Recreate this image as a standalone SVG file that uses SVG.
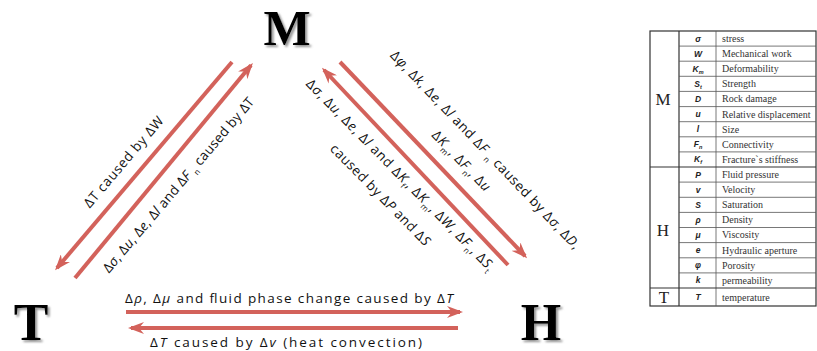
<svg xmlns="http://www.w3.org/2000/svg" width="817" height="351" viewBox="0 0 817 351">
<style>
.lbl{font-family:"Open Sans","Liberation Sans",sans-serif;font-size:13.5px;fill:#111;}
.big{font-family:"Liberation Serif","Times New Roman",serif;font-weight:bold;fill:#000;}
.i{font-style:italic;}
.sub{font-size:8px;}
.arr{stroke:#d3625b;stroke-width:4;fill:none;marker-end:url(#ah);}
.tl{stroke:#555;stroke-width:0.8;fill:none;}
.tk{stroke:#333;stroke-width:1.2;fill:none;}
.sec{font-family:"Liberation Serif",serif;font-size:17px;fill:#222;text-anchor:middle;}
.sym{font-family:"Liberation Sans",sans-serif;font-size:8.5px;font-weight:bold;font-style:italic;fill:#222;text-anchor:middle;}
.dsc{font-family:"Liberation Serif",serif;font-size:10px;fill:#333;}
</style>
<defs>
<marker id="ah" viewBox="0 0 16 12" refX="13" refY="6" markerWidth="16" markerHeight="12" markerUnits="userSpaceOnUse" orient="auto">
<path d="M0,0 L16,6 L0,12 L5,6 Z" fill="#d3625b"/>
</marker>
<filter id="sh" x="-30%" y="-30%" width="170%" height="170%">
<feDropShadow dx="2" dy="2" stdDeviation="1.2" flood-color="#777" flood-opacity="0.8"/>
</filter>
</defs>
<rect width="817" height="351" fill="#fff"/>

<g id="node-M"><text class="big" x="287" y="44.6" font-size="50" text-anchor="middle" filter="url(#sh)">M</text></g>
<g id="node-T"><text class="big" x="31" y="339.6" font-size="52" text-anchor="middle" filter="url(#sh)">T</text></g>
<g id="node-H"><text class="big" x="541" y="339.6" font-size="52" text-anchor="middle" filter="url(#sh)">H</text></g>

<g id="connectors">
<line class="arr" x1="232" y1="62" x2="57" y2="268"/>
<line class="arr" x1="75" y1="278" x2="251" y2="65.3"/>
<line class="arr" x1="340" y1="62" x2="525" y2="256"/>
<line class="arr" x1="508" y1="265" x2="324" y2="70"/>
<line class="arr" x1="126" y1="312" x2="460" y2="312"/>
<line class="arr" x1="458" y1="328" x2="131" y2="328"/>
</g>

<g id="labels">
<text class="lbl" text-anchor="middle" transform="translate(127,165) rotate(-49.6)" textLength="115">ΔT caused by ΔW</text>
<text class="lbl" text-anchor="middle" transform="translate(182,188) rotate(-49.6)" textLength="225">Δ<tspan class="i">σ</tspan>, Δ<tspan class="i">u</tspan>, Δ<tspan class="i">e</tspan>, Δ<tspan class="i">l</tspan> and Δ<tspan class="i">F</tspan> <tspan class="sub" baseline-shift="-4">n</tspan> caused by ΔT</text>

<text class="lbl" text-anchor="middle" transform="translate(482,153) rotate(46.4)" textLength="268">Δ<tspan class="i">φ</tspan>, Δ<tspan class="i">k</tspan>, Δ<tspan class="i">e</tspan>, Δ<tspan class="i">l</tspan> and Δ<tspan class="i">F</tspan> <tspan class="sub" baseline-shift="-4">n</tspan> caused by Δ<tspan class="i">σ</tspan>, Δ<tspan class="i">D</tspan>,</text>
<text class="lbl" text-anchor="middle" transform="translate(458,164) rotate(46.4)" textLength="78">Δ<tspan class="i">K</tspan><tspan class="sub" baseline-shift="-4">m</tspan>, Δ<tspan class="i">F</tspan><tspan class="sub" baseline-shift="-4">n</tspan>, Δ<tspan class="i">u</tspan></text>
<text class="lbl" text-anchor="middle" transform="translate(397,178) rotate(45.5)" textLength="262">Δ<tspan class="i">σ</tspan>, Δ<tspan class="i">u</tspan>, Δ<tspan class="i">e</tspan>, Δ<tspan class="i">l</tspan> and Δ<tspan class="i">K</tspan><tspan class="sub" baseline-shift="-4">f</tspan>, Δ<tspan class="i">K</tspan><tspan class="sub" baseline-shift="-4">m</tspan>, Δ<tspan class="i">W</tspan>, Δ<tspan class="i">F</tspan><tspan class="sub" baseline-shift="-4">n</tspan>, Δ<tspan class="i">S</tspan><tspan class="sub" baseline-shift="-4">t</tspan></text>
<text class="lbl" text-anchor="middle" transform="translate(377,198) rotate(45.5)" textLength="136">caused by Δ<tspan class="i">P</tspan> and Δ<tspan class="i">S</tspan></text>

<text class="lbl" text-anchor="middle" x="289" y="303" textLength="328">Δ<tspan class="i">ρ</tspan>, Δ<tspan class="i">μ</tspan> and fluid phase change caused by Δ<tspan class="i">T</tspan></text>
<text class="lbl" text-anchor="middle" x="286" y="347" textLength="272">Δ<tspan class="i">T</tspan> caused by Δ<tspan class="i">v</tspan> (heat convection)</text>
</g>

<g id="table">
<rect class="tk" x="650" y="31" width="166" height="275"/>
<line class="tk" x1="679" y1="31" x2="679" y2="306"/>
<line class="tl" x1="716" y1="31" x2="716" y2="306"/>
<line class="tk" x1="650" y1="167" x2="816" y2="167"/>
<line class="tk" x1="650" y1="288" x2="816" y2="288"/>
<g class="tl">
<line x1="679" y1="46.1" x2="816" y2="46.1"/>
<line x1="679" y1="61.2" x2="816" y2="61.2"/>
<line x1="679" y1="76.3" x2="816" y2="76.3"/>
<line x1="679" y1="91.4" x2="816" y2="91.4"/>
<line x1="679" y1="106.6" x2="816" y2="106.6"/>
<line x1="679" y1="121.7" x2="816" y2="121.7"/>
<line x1="679" y1="136.8" x2="816" y2="136.8"/>
<line x1="679" y1="151.9" x2="816" y2="151.9"/>
<line x1="679" y1="182.1" x2="816" y2="182.1"/>
<line x1="679" y1="197.3" x2="816" y2="197.3"/>
<line x1="679" y1="212.4" x2="816" y2="212.4"/>
<line x1="679" y1="227.5" x2="816" y2="227.5"/>
<line x1="679" y1="242.6" x2="816" y2="242.6"/>
<line x1="679" y1="257.8" x2="816" y2="257.8"/>
<line x1="679" y1="272.9" x2="816" y2="272.9"/>
</g>
<text class="sec" x="663" y="105">M</text>
<text class="sec" x="663" y="236">H</text>
<text class="sec" x="664" y="303">T</text>

<g class="sym">
<text x="698" y="41.5">σ</text>
<text x="698" y="56.6">W</text>
<text x="698" y="71.7">K<tspan font-size="5.5" baseline-shift="-2">m</tspan></text>
<text x="698" y="86.8">S<tspan font-size="5.5" baseline-shift="-2">t</tspan></text>
<text x="698" y="101.9">D</text>
<text x="698" y="117">u</text>
<text x="698" y="132.1">l</text>
<text x="698" y="147.2">F<tspan font-size="5.5" baseline-shift="-2">n</tspan></text>
<text x="698" y="162.3">K<tspan font-size="5.5" baseline-shift="-2">f</tspan></text>
<text x="698" y="177.5">P</text>
<text x="698" y="192.6">v</text>
<text x="698" y="207.7">S</text>
<text x="698" y="222.8">ρ</text>
<text x="698" y="237.9">μ</text>
<text x="698" y="253">e</text>
<text x="698" y="268.2">φ</text>
<text x="698" y="283.3">k</text>
<text x="698" y="300">T</text>
</g>
<g class="dsc">
<text x="722" y="42">stress</text>
<text x="722" y="57.1">Mechanical work</text>
<text x="722" y="72.2">Deformability</text>
<text x="722" y="87.3">Strength</text>
<text x="722" y="102.4">Rock damage</text>
<text x="722" y="117.5">Relative displacement</text>
<text x="722" y="132.6">Size</text>
<text x="722" y="147.7">Connectivity</text>
<text x="722" y="162.8">Fracture`s stiffness</text>
<text x="722" y="178">Fluid pressure</text>
<text x="722" y="193.1">Velocity</text>
<text x="722" y="208.2">Saturation</text>
<text x="722" y="223.3">Density</text>
<text x="722" y="238.4">Viscosity</text>
<text x="722" y="253.5">Hydraulic aperture</text>
<text x="722" y="268.7">Porosity</text>
<text x="722" y="283.8">permeability</text>
<text x="722" y="300.5">temperature</text>
</g>
</g>
</svg>
